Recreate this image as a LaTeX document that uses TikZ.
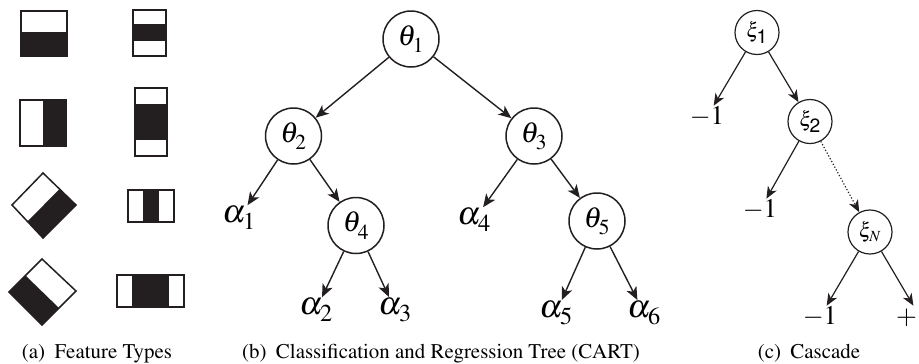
\documentclass[tikz,border=0pt]{standalone}
\usepackage[T1]{fontenc}
\usepackage{mathptmx}
\usepackage[scaled=0.92]{helvet}
\usetikzlibrary{arrows.meta}
\newcommand{\thlab}[1]{\fontsize{29}{29}\selectfont$\theta_{\raisebox{-3bp}{$\scriptstyle #1$}}$}
\newcommand{\allab}[1]{\fontsize{33}{33}\selectfont$\alpha_{\raisebox{-2bp}{$\scriptstyle #1$}}$}
\newcommand{\xilab}[1]{\fontsize{21}{21}\selectfont$\xi_{\raisebox{-1bp}{$\scriptstyle #1$}}$}
\definecolor{ink}{HTML}{231F20}
\begin{document}
\begin{tikzpicture}[x=1bp,y=-1bp,
  fbox/.style={draw=ink,line width=1.5bp},
  fblack/.style={fill=ink},
  tnode/.style={circle,draw=ink,line width=1.5bp,minimum size=56bp,inner sep=0pt},
  cnode/.style={circle,draw=ink,line width=1.2bp,minimum size=44bp,inner sep=0pt},
  leaf/.style={inner sep=1bp},
  num/.style={inner sep=1bp,font=\fontsize{27}{27}\selectfont},
  arr/.style={draw=ink,line width=1.4bp,-{Stealth[length=13bp,width=11bp,inset=3.5bp]}},
  carr/.style={draw=ink,line width=1.2bp,-{Stealth[length=12bp,width=10bp,inset=3.5bp]}},
  captext/.style={anchor=base,font=\fontsize{21}{21}\selectfont,inner sep=0pt}
]
\useasboundingbox (0,0) rectangle (919,363);

% ---------- (a) feature types ----------
% row 1
\fill[fblack] (21,32) rectangle (67,56);
\draw[fbox] (21,11) rectangle (67,56);
\fill[fblack] (133,24) rectangle (166,41);
\draw[fbox] (133,10) rectangle (166,56);
% row 2
\fill[fblack] (43,100) rectangle (66,146);
\draw[fbox] (20,100) rectangle (66,146);
\fill[fblack] (135,104) rectangle (167,140);
\draw[fbox] (135,88) rectangle (167,156);
% row 3
\fill[fblack] (27.5,221.5) -- (59.5,189) -- (76,205) -- (43,238) -- cycle;
\draw[fbox,line join=miter] (12,205) -- (43,173) -- (76,205) -- (43,238) -- cycle;
\fill[fblack] (143,190) rectangle (159,222);
\draw[fbox] (128,190) rectangle (174,222);
% row 4
\fill[fblack] (9,292) -- (25.5,275.5) -- (59,308) -- (42,325) -- cycle;
\draw[fbox,line join=miter] (9,292) -- (42,259) -- (76,291) -- (42,325) -- cycle;
\fill[fblack] (132,275) rectangle (169,307);
\draw[fbox] (117,275) rectangle (184,307);

\node[captext] (capa) at (97,358) {(a)\hspace{0.45em}Feature Types};

% ---------- (b) CART ----------
\node[tnode] (t1) at (411,39) {\thlab{1}};
\node[tnode] (t2) at (293.5,136) {\thlab{2}};
\node[tnode] (t3) at (534,136) {\thlab{3}};
\node[tnode] (t4) at (356,225.5) {\thlab{4}};
\node[tnode] (t5) at (597,221) {\thlab{5}};
\node[leaf] (a1) at (239,218) {\allab{1}};
\node[leaf] (a2) at (316,310) {\allab{2}};
\node[leaf] (a3) at (395,310) {\allab{3}};
\node[leaf] (a4) at (474,220) {\allab{4}};
\node[leaf] (a5) at (556,313) {\allab{5}};
\node[leaf] (a6) at (644,313) {\allab{6}};
\draw[arr] (t1) -- (t2);
\draw[arr] (t1) -- (t3);
\draw[arr] (t2) -- (a1);
\draw[arr] (t2) -- (t4);
\draw[arr] (t3) -- (a4);
\draw[arr] (t3) -- (t5);
\draw[arr] (t4) -- (a2);
\draw[arr] (t4) -- (a3);
\draw[arr] (t5) -- (a5);
\draw[arr] (t5) -- (a6);

\node[captext] (capb) at (441,358) {(b)\hspace{0.45em}Classification and Regression Tree (CART)};

% ---------- (c) cascade ----------
\node[cnode] (x1) at (757,32.5) {\xilab{\textsf{1}}};
\node[cnode] (x2) at (810,121.5) {\xilab{\textsf{2}}};
\node[cnode] (xN) at (870,232) {\xilab{N}};
\node[num] (m1) at (707,117) {$-1$};
\node[num] (m2) at (760,210) {$-1$};
\node[num] (m3) at (820,317) {$-1$};
\node[num,anchor=west] (p1) at (895,317) {$+1$};
\draw[carr] (x1) -- (m1);
\draw[carr] (x1) -- (x2);
\draw[carr] (x2) -- (m2);
\draw[carr,dotted] (x2) -- (xN);
\draw[carr] (xN) -- (m3);
\draw[carr] (xN) -- (p1.north);

\node[captext] (capc) at (809,358) {(c)\hspace{0.45em}Cascade};
\end{tikzpicture}
\end{document}
